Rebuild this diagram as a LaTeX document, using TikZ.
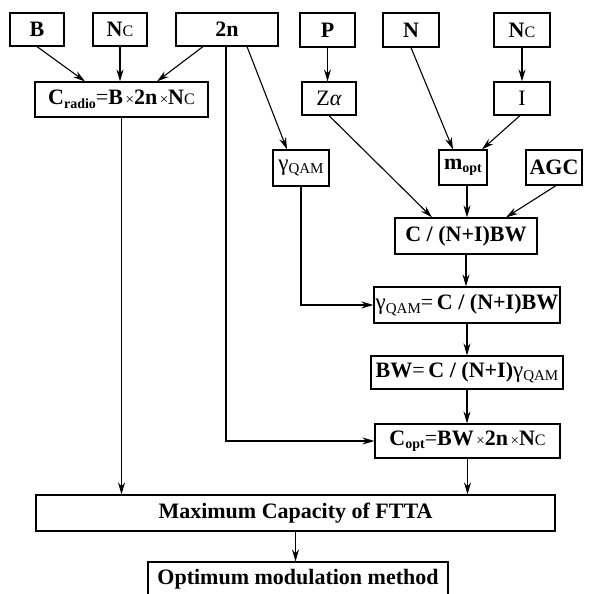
\documentclass[tikz,border=0pt]{standalone}
\usepackage{fontspec}
\setmainfont{Liberation Serif}
\usetikzlibrary{arrows.meta}
\newcommand{\sbb}[1]{\raisebox{-3.5pt}{\fontsize{14}{14}\selectfont\bfseries #1}}
\newcommand{\sbr}[1]{\raisebox{-3.5pt}{\fontsize{15}{15}\selectfont\mdseries #1}}
\newcommand{\smc}{{\mdseries\fontsize{16}{16}\selectfont C}}
\newcommand{\tms}{{\mdseries\fontsize{15}{15}\selectfont\,×}}
\newcommand{\gq}{{\mdseries\fontsize{23}{24}\selectfont γ\sbr{QAM}}}
\begin{document}
\begin{tikzpicture}[x=1pt,y=-1pt,
  bx/.style={draw,line width=1.2pt,rectangle,inner sep=0pt,font=\fontsize{22}{24}\selectfont\bfseries},
  ar/.style={line width=1.1pt,-{Stealth[length=12pt,width=7pt]}},
  ln/.style={line width=1.1pt}]
\useasboundingbox (0,0) rectangle (593,594);
% top row
\node[bx,minimum width=54pt,minimum height=33pt] (B) at (37,29.5) {B};
\node[bx,minimum width=54pt,minimum height=33pt] (NcA) at (120,29.5) {N\smc};
\node[bx,minimum width=102pt,minimum height=33pt] (tn) at (227,29.5) {2n};
\node[bx,minimum width=55pt,minimum height=34pt] (P) at (327.5,30) {P};
\node[bx,minimum width=56pt,minimum height=34pt] (N) at (411,30) {N};
\node[bx,minimum width=56pt,minimum height=34pt] (NcB) at (522,30) {N\smc};
% second row
\node[bx,minimum width=173pt,minimum height=35pt] (Cr) at (121.5,99.5) {C\sbb{radio}{\mdseries=}B\tms 2n\tms N\smc};
\node[bx,minimum width=54pt,minimum height=33pt] (Za) at (329,98.5) {\mdseries Z\textit{α}};
\node[bx,minimum width=56pt,minimum height=33pt] (I) at (522,98.5) {\mdseries I};
% third row
\node[bx,minimum width=56pt,minimum height=36pt] (gs) at (301,168) {\gq};
\node[bx,minimum width=48pt,minimum height=35pt] (mo) at (463,167.5) {m\sbb{opt}};
\node[bx,minimum width=56pt,minimum height=35pt] (AGC) at (554,167.5) {AGC};
% right column
\node[bx,minimum width=142pt,minimum height=36pt] (CNI) at (466,236) {C / (N+I)BW};
\node[bx,minimum width=186pt,minimum height=36pt] (gQ) at (467,305) {\gq{\mdseries=}\,C / (N+I)BW};
\node[bx,minimum width=192pt,minimum height=33pt] (BW) at (467,372.5) {BW{\mdseries=}\,C / (N+I)\gq};
\node[bx,minimum width=185pt,minimum height=34pt] (Co) at (467.5,441) {C\sbb{opt}{\mdseries=}BW\tms 2n\tms N\smc};
% bottom
\node[bx,minimum width=519pt,minimum height=36pt] (Max) at (295.5,513) {Maximum Capacity of FTTA};
\node[bx,minimum width=300pt,minimum height=35pt] (Opt) at (298,579.5) {Optimum modulation method};
% connectors
\draw[ar] (B.south) -- ([xshift=-36.5pt]Cr.north);
\draw[ar] (NcA.south) -- (NcA.south |- Cr.north);
\draw[ar] ([xshift=-24pt]tn.south) -- ([xshift=35.5pt]Cr.north);
\draw[ar] ([xshift=20pt]tn.south) -- ([xshift=-14pt]gs.north);
\draw[ar] ([xshift=-1pt]tn.south) |- (Co.west);
\draw[ar] (Cr.south) -- (Cr.south |- Max.north);
\draw[ar] (P.south) -- (P.south |- Za.north);
\draw[ar] (Za.south) -- ([xshift=-34pt]CNI.north);
\draw[ar] (N.south) -- ([xshift=-10pt]mo.north);
\draw[ar] (NcB.south) -- (NcB.south |- I.north);
\draw[ar] ([xshift=-2pt]I.south) -- ([xshift=19pt]mo.north);
\draw[ar] ([xshift=4pt]mo.south) -- ([xshift=4pt]mo.south |- CNI.north);
\draw[ar] ([xshift=2pt]AGC.south) -- ([xshift=40pt]CNI.north);
\draw[ar] (CNI.south) -- (CNI.south |- gQ.north);
\draw[ar] (gs.south) |- (gQ.west);
\draw[ar] (gQ.south) -- (gQ.south |- BW.north);
\draw[ar] (BW.south) -- (BW.south |- Co.north);
\draw[ar] (Co.south) -- (Co.south |- Max.north);
\draw[ar] (Max.south) -- (Max.south |- Opt.north);
\end{tikzpicture}
\end{document}
